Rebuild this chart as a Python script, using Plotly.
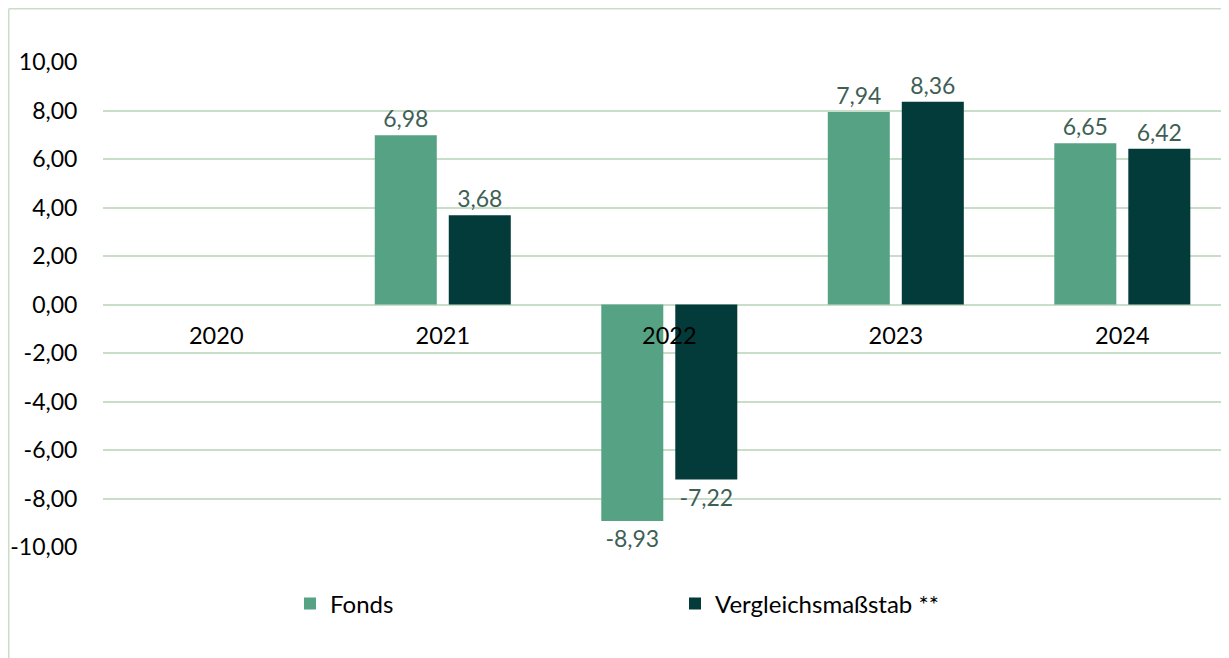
import plotly.graph_objects as go

years = ["2020", "2021", "2022", "2023", "2024"]
fonds = [None, 6.98, -8.93, 7.94, 6.65]
vergleich = [None, 3.68, -7.22, 8.36, 6.42]
series_names = ["Fonds", "Vergleichsmaßstab **"]
tick_vals = [-10, -8, -6, -4, -2, 0, 2, 4, 6, 8, 10]
tick_text = ["-10,00", "-8,00", "-6,00", "-4,00", "-2,00", "0,00", "2,00", "4,00", "6,00", "8,00", "10,00"]

def fmt(v):
    return "" if v is None else f"{v:.2f}".replace(".", ",")

FONT = "Lato, 'Open Sans', sans-serif"
GRID = "#C9DEC9"
LABEL_COLOR = "#3E5F55"

fig = go.Figure()
for name, vals, color in [(series_names[0], fonds, "#55A285"), (series_names[1], vergleich, "#033B3A")]:
    fig.add_trace(go.Bar(
        x=years, y=vals, name=name,
        marker=dict(color=color, line=dict(width=0)),
        text=[fmt(v) for v in vals], textposition="outside",
        textfont=dict(family=FONT, size=23, color=LABEL_COLOR),
        cliponaxis=False,
    ))

# page has an 8px body margin; figure coordinates are page coordinates minus 8
W, H = 1221, 650
L, T, B = 95, 54, 111
PH = H - T - B
PW = W - L
fig.update_layout(
    width=W, height=H,
    margin=dict(l=L, r=0, t=T, b=B, pad=0),
    paper_bgcolor="white", plot_bgcolor="white",
    barmode="group", bargap=0.3466, bargroupgap=0.162,
    font=dict(family=FONT, size=23, color="black"),
    showlegend=True,
    legend=dict(orientation="h", x=(282 - L) / PW, xanchor="left",
                y=-(596 - (H - B)) / PH, yanchor="middle",
                font=dict(family=FONT, size=24, color="black"),
                entrywidth=340, entrywidthmode="pixels",
                itemwidth=30, tracegroupgap=0),
    xaxis=dict(range=[-0.5, 4.471], anchor="free", position=0.5,
               showline=False, showgrid=False, zeroline=False,
               ticks="outside", ticklen=10, tickcolor="rgba(0,0,0,0)",
               tickfont=dict(family=FONT, size=23.5, color="black"),
               layer="above traces", fixedrange=True),
    yaxis=dict(range=[-10, 10], tickvals=tick_vals, ticktext=tick_text,
               showgrid=True, gridcolor=GRID, gridwidth=1.5,
               zeroline=True, zerolinecolor=GRID, zerolinewidth=1.5,
               showline=False, ticks="outside", ticklen=20, tickcolor="rgba(0,0,0,0)",
               tickfont=dict(family=FONT, size=23, color="black"), fixedrange=True),
    shapes=[
        dict(type="line", xref="paper", yref="paper",
             x0=(0.75 - L) / PW, x1=1.0,
             y0=(H - B - 0.75) / PH, y1=(H - B - 0.75) / PH,
             line=dict(color=GRID, width=1.5)),
        dict(type="line", xref="paper", yref="paper",
             x0=(0.75 - L) / PW, x1=(0.75 - L) / PW,
             y0=-B / PH, y1=(H - B - 0.75) / PH,
             line=dict(color=GRID, width=1.5)),
    ],
)

fig.write_html("out.html", config={"displayModeBar": False})
